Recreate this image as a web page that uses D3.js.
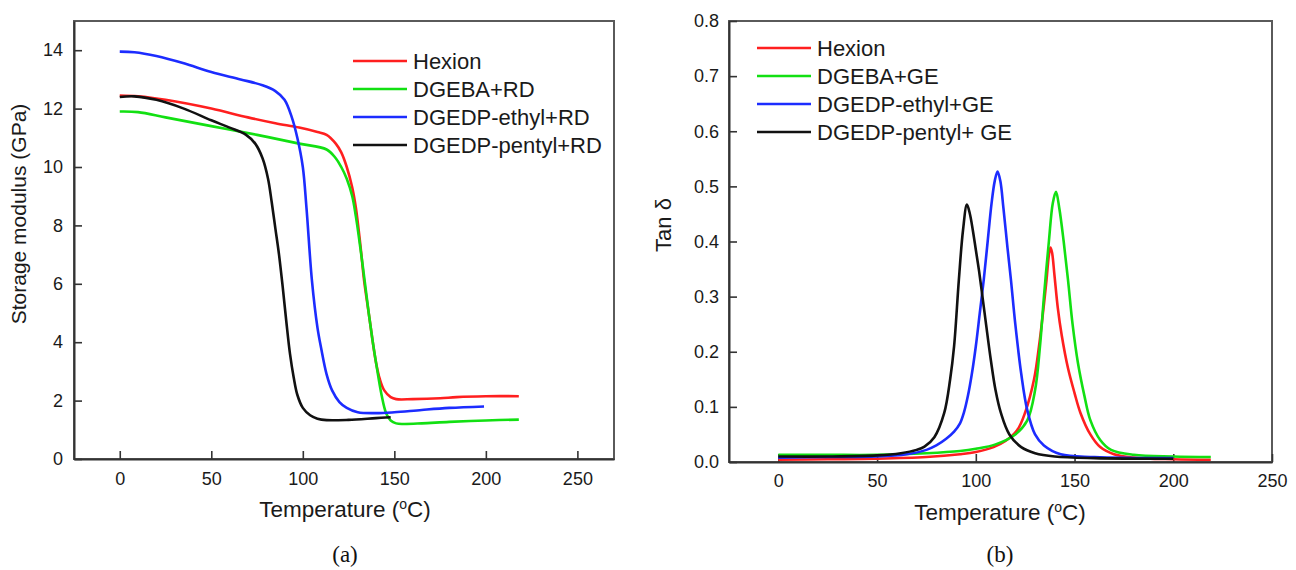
<!DOCTYPE html>
<html>
<head>
<meta charset="utf-8">
<script src="https://cdn.jsdelivr.net/npm/d3@7"></script>
<style>
  body { margin: 0; background: #fff; }
  svg { font-family: "Liberation Sans", Arial, sans-serif; }
</style>
</head>
<body>
<svg id="chart" width="1296" height="570"></svg>
<script>
// ---- data ----
const xTicks = [0, 50, 100, 150, 200, 250];
const modulusTicks = [0, 2, 4, 6, 8, 10, 12, 14];
const tanTicks = [0, 0.1, 0.2, 0.3, 0.4, 0.5, 0.6, 0.7, 0.8];

const legendA = ['Hexion', 'DGEBA+RD', 'DGEDP-ethyl+RD', 'DGEDP-pentyl+RD'];
const legendB = ['Hexion', 'DGEBA+GE', 'DGEDP-ethyl+GE', 'DGEDP-pentyl+ GE'];
const colors = ['#ff1f1f', '#12e012', '#1c2cff', '#111111'];

// storage modulus (GPa) vs temperature
const hexionA = [[0,12.45],[10,12.42],[25,12.3],[50,12.0],[70,11.7],[85,11.5],[98,11.35],[108,11.2],[113,11.1],[118,10.8],[121,10.5],[124,10.0],[127,9.3],[129,8.6],[131.5,7.3],[133.5,6.1],[136,5.0],[138,4.1],[140,3.3],[142,2.75],[144.5,2.35],[148,2.12],[151,2.05],[160,2.05],[175,2.08],[184,2.12],[200,2.15],[218,2.15]];
const dgebaA = [[0,11.9],[10,11.88],[25,11.7],[50,11.4],[75,11.1],[98,10.8],[113,10.6],[118,10.3],[121,10.0],[124,9.6],[127,9.0],[129,8.3],[131.5,7.2],[134,6.0],[136,5.0],[138,4.1],[140,3.3],[143,2.2],[145.5,1.57],[148,1.32],[151,1.22],[155,1.2],[165,1.22],[180,1.27],[200,1.32],[218,1.35]];
const ethylA = [[0,13.95],[8,13.93],[20,13.8],[35,13.55],[50,13.25],[66,13.0],[78,12.8],[85,12.6],[90,12.3],[94,11.7],[97,11.0],[100,10.0],[102,8.6],[105,6.1],[108,4.5],[110,3.8],[113,2.9],[116,2.35],[120,1.95],[124,1.75],[130,1.6],[140,1.57],[150,1.6],[165,1.68],[180,1.75],[199,1.8]];
const pentylA = [[0,12.4],[8,12.42],[20,12.3],[35,12.0],[50,11.6],[60,11.35],[69,11.1],[74,10.8],[78,10.3],[81,9.6],[83,8.8],[85,7.9],[87,7.0],[89,5.9],[91,4.7],[93,3.6],[95,2.8],[97,2.2],[100,1.75],[104,1.5],[108,1.38],[113,1.33],[125,1.34],[140,1.4],[148,1.43]];

// tan delta vs temperature
const hexionB = [[0,0.004],[25,0.005],[50,0.006],[75,0.009],[92,0.014],[100,0.018],[109,0.027],[115,0.038],[121,0.058],[125,0.09],[129.5,0.15],[132,0.21],[134,0.27],[135.8,0.33],[137,0.375],[137.8,0.389],[138.6,0.38],[139.8,0.34],[141.5,0.28],[143.5,0.23],[146.7,0.17],[150,0.125],[153,0.089],[158,0.05],[163,0.027],[170,0.014],[180,0.008],[200,0.005],[219,0.004]];
const dgebaB = [[0,0.013],[25,0.013],[50,0.013],[75,0.016],[92,0.02],[100,0.024],[110,0.032],[120,0.05],[126,0.075],[130,0.13],[132.5,0.21],[134.5,0.3],[137,0.4],[139,0.47],[140.6,0.49],[142.3,0.46],[144.5,0.4],[146.7,0.33],[149,0.25],[151.7,0.18],[155,0.12],[158,0.076],[163,0.04],[168.5,0.022],[180,0.013],[200,0.01],[219,0.009]];
const ethylB = [[0,0.008],[25,0.009],[50,0.01],[65,0.014],[75,0.022],[80,0.03],[85,0.042],[89,0.055],[92,0.07],[94,0.09],[96,0.12],[98,0.16],[100,0.21],[102,0.27],[104,0.33],[106,0.4],[108,0.47],[109.6,0.51],[111,0.527],[112.4,0.51],[114,0.46],[116,0.39],[117.8,0.33],[120,0.25],[123,0.16],[126,0.095],[130,0.05],[134.5,0.03],[143,0.014],[160,0.009],[200,0.007]];
const pentylB = [[0,0.01],[25,0.01],[50,0.012],[62,0.016],[70,0.022],[74,0.028],[79,0.045],[84,0.089],[87,0.15],[89,0.21],[91.4,0.33],[93.5,0.42],[95.5,0.467],[97,0.45],[98.5,0.42],[100,0.385],[101.5,0.35],[103,0.31],[105,0.255],[107.6,0.185],[110,0.13],[112.7,0.089],[117,0.05],[123,0.027],[130,0.016],[140,0.01],[160,0.007],[200,0.006]];

const svg = d3.select('#chart');

function drawPanel(p) {
    const x = d3.scaleLinear().domain(p.xDomain).range([p.left, p.right]);
    const y = d3.scaleLinear().domain(p.yDomain).range([p.bottom, p.top]);
    const g = svg.append('g');

    // frame
    g.append('rect')
        .attr('x', p.left).attr('y', p.top)
        .attr('width', p.right - p.left).attr('height', p.bottom - p.top)
        .attr('fill', 'none').attr('stroke', '#5a5a5a').attr('stroke-width', 2);

    // axes with inward ticks
    const xAxis = g.append('g')
        .attr('transform', 'translate(0,' + p.bottom + ')')
        .call(d3.axisBottom(x).tickValues(xTicks).tickSizeInner(-8).tickSizeOuter(0).tickPadding(p.xPad));
    const yAxis = g.append('g')
        .attr('transform', 'translate(' + p.left + ',0)')
        .call(d3.axisLeft(y).tickValues(p.yTicks).tickFormat(p.yFormat).tickSizeInner(-8).tickSizeOuter(0).tickPadding(p.yPad));
    [xAxis, yAxis].forEach(a => {
        a.select('.domain').attr('stroke', '#333').attr('stroke-width', 2);
        a.selectAll('.tick line').attr('stroke', '#333').attr('stroke-width', 1.6);
        a.selectAll('.tick text').attr('fill', '#1a1a1a').style('font-size', '18px')
            .style('font-family', '"Liberation Sans", Arial, sans-serif');
    });

    // curves
    const line = d3.line()
        .x(d => x(d[0]))
        .y(d => y(d[1]))
        .curve(d3.curveCatmullRom.alpha(0.5));
    p.series.forEach((s, i) => {
        g.append('path')
            .datum(s)
            .attr('fill', 'none')
            .attr('stroke', colors[i])
            .attr('stroke-width', 2.6)
            .attr('stroke-linejoin', 'round')
            .attr('d', line);
    });

    // legend
    p.legend.forEach((name, i) => {
        const ly = p.legendY + i * 28;
        g.append('line')
            .attr('x1', p.legendX).attr('x2', p.legendX + 54)
            .attr('y1', ly).attr('y2', ly)
            .attr('stroke', colors[i]).attr('stroke-width', 2.6);
        g.append('text')
            .attr('x', p.legendX + 60).attr('y', ly + 7.5)
            .attr('fill', '#1a1a1a').style('font-size', '22px')
            .text(name);
    });

    // x title with superscript degree
    const xt = g.append('text')
        .attr('x', (p.titleX)).attr('y', p.bottom + 58)
        .attr('text-anchor', 'middle')
        .attr('fill', '#1a1a1a').style('font-size', '22.5px');
    xt.append('tspan').text('Temperature (');
    xt.append('tspan').attr('dy', -8).style('font-size', '14px').text('o');
    xt.append('tspan').attr('dy', 8).text('C)');

    // y title
    g.append('text')
        .attr('transform', 'translate(' + p.yTitleX + ',' + p.yTitleY + ') rotate(-90)')
        .attr('text-anchor', 'middle')
        .attr('fill', '#1a1a1a').style('font-size', p.yTitleSize)
        .text(p.yTitle);

    // panel caption
    g.append('text')
        .attr('x', p.titleX).attr('y', 562)
        .attr('text-anchor', 'middle')
        .attr('fill', '#111')
        .style('font-family', '"Liberation Serif", "Times New Roman", serif')
        .style('font-size', '23px')
        .text(p.caption);
}

drawPanel({
    left: 74, right: 614, top: 21, bottom: 459,
    xDomain: [-25, 270], yDomain: [0, 15],
    yTicks: modulusTicks, yFormat: d3.format('d'),
    xPad: 13, yPad: 11,
    series: [hexionA, dgebaA, ethylA, pentylA],
    legend: legendA, legendX: 353, legendY: 61,
    titleX: 345, yTitleX: 26, yTitleY: 214, yTitleSize: '21px',
    yTitle: 'Storage modulus (GPa)', caption: '(a)'
});

drawPanel({
    left: 729, right: 1272, top: 21, bottom: 462,
    xDomain: [-25, 250], yDomain: [0, 0.8],
    yTicks: tanTicks, yFormat: d3.format('.1f'),
    xPad: 12, yPad: 10,
    series: [hexionB, dgebaB, ethylB, pentylB],
    legend: legendB, legendX: 757, legendY: 48,
    titleX: 1000, yTitleX: 671, yTitleY: 225, yTitleSize: '22px',
    yTitle: 'Tan δ', caption: '(b)'
});
</script>
</body>
</html>
